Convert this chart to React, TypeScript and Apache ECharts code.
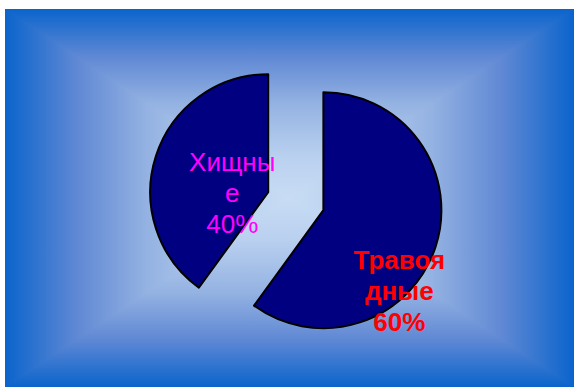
import React, { useEffect, useRef } from "react";
import * as echarts from "echarts";

const categories = ["Травоядные", "Хищные"];
const wrappedLabels = ["Травоя\nдные", "Хищны\nе"];
const values = [60, 40];
const labelColors = ["#ff0000", "#ff00ff"];
const labelWeights = ["bold", "normal"];
const labelShift = [
  [17, 62],
  [23, 20],
];

const W = 574;
const H = 387;
const BG = { x0: 5, y0: 9, x1: 574, y1: 387 };
const edge = "#0a64cc";
const stops = [
  { offset: 0, color: edge },
  { offset: 0.25, color: "#5f88d4" },
  { offset: 0.5, color: "#94b2e2" },
  { offset: 0.78, color: "#b9d0ef" },
  { offset: 1, color: "#c8dcf4" },
];

function grad(x: number, y: number, x2: number, y2: number) {
  return new echarts.graphic.LinearGradient(x, y, x2, y2, stops);
}

function tri(points: number[][], g: [number, number, number, number]) {
  return {
    type: "polygon",
    z: -9,
    silent: true,
    shape: { points },
    style: { fill: grad(...g), stroke: grad(...g), lineWidth: 1.2 },
  };
}

export default function App() {
  const ref = useRef<HTMLDivElement>(null);
  useEffect(() => {
    if (!ref.current) return;
    const chart = echarts.init(ref.current, null, { renderer: "svg" });
    const cx = (BG.x0 + BG.x1) / 2;
    const cy = (BG.y0 + BG.y1) / 2;
    const option: any = {
      animation: false,
      graphic: [
        {
          type: "rect",
          z: -10,
          silent: true,
          shape: { x: BG.x0, y: BG.y0, width: BG.x1 - BG.x0, height: BG.y1 - BG.y0 },
          style: { fill: "#7fa2dc" },
        },
        tri([[BG.x0, BG.y0], [BG.x1, BG.y0], [cx, cy]], [0, 0, 0, 1]),
        tri([[BG.x0, BG.y1], [BG.x1, BG.y1], [cx, cy]], [0, 1, 0, 0]),
        tri([[BG.x0, BG.y0], [BG.x0, BG.y1], [cx, cy]], [0, 0, 1, 0]),
        tri([[BG.x1, BG.y0], [BG.x1, BG.y1], [cx, cy]], [1, 0, 0, 0]),
        {
          type: "rect",
          z: -8,
          silent: true,
          shape: { x: 0, y: 0, width: W, height: BG.y0 },
          style: { fill: "#ffffff" },
        },
        {
          type: "rect",
          z: -8,
          silent: true,
          shape: { x: 0, y: 0, width: BG.x0, height: H },
          style: { fill: "#ffffff" },
        },
      ],
      series: [
        {
          type: "pie",
          center: [295.8, 201.2],
          radius: 118,
          startAngle: 90,
          clockwise: true,
          selectedMode: "multiple",
          selectedOffset: 29,
          emphasis: { disabled: true },
          select: {
            itemStyle: { color: "#000080", borderColor: "#000000", borderWidth: 2 },
          },
          itemStyle: { color: "#000080", borderColor: "#000000", borderWidth: 2 },
          labelLine: { show: false },
          labelLayout: (p: any) => ({
            dx: labelShift[p.dataIndex][0],
            dy: labelShift[p.dataIndex][1],
          }),
          data: categories.map((name, i) => ({
            name,
            value: values[i],
            selected: true,
            label: {
              show: true,
              position: "inside",
              color: labelColors[i],
              fontWeight: labelWeights[i],
              fontFamily: "Liberation Sans, Arial, sans-serif",
              fontSize: 26,
              lineHeight: 31,
              align: "center",
              formatter: (p: any) => `${wrappedLabels[p.dataIndex]}\n${Math.round(p.percent)}%`,
            },
          })),
        },
      ],
    };
    chart.setOption(option);
    return () => chart.dispose();
  }, []);
  return (
    <div
      ref={ref}
      style={{ position: "fixed", left: 0, top: 0, width: W, height: H, background: "#ffffff" }}
    />
  );
}
